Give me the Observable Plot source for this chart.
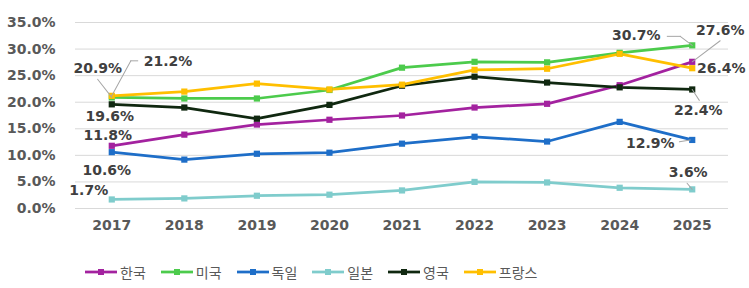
<!DOCTYPE html>
<html><head><meta charset="utf-8">
<script src="https://cdn.jsdelivr.net/npm/d3@7"></script>
<script src="https://cdn.jsdelivr.net/npm/@observablehq/plot@0.6"></script>
<style>
body{margin:0;background:#fff;}
#chart{width:749px;height:250px;}
.legend{height:38px;display:flex;gap:15px;padding-left:85px;align-items:center;padding-top:6px;box-sizing:border-box;font-family:"Noto Sans CJK KR","Noto Sans",sans-serif;font-size:14px;color:#595959;}
.item{display:flex;align-items:center;gap:3px;}
</style></head><body>
<div id="chart"></div>
<div class="legend" id="legend"></div>
<script>
const years = [2017, 2018, 2019, 2020, 2021, 2022, 2023, 2024, 2025];
const seriesNames = ["한국", "미국", "독일", "일본", "영국", "프랑스"];
const colors = ["#a3229f", "#4ccb4c", "#1e6ec8", "#7fcccc", "#102810", "#ffbf00"];
const korea   = [11.8, 13.9, 15.8, 16.7, 17.5, 19.0, 19.7, 23.2, 27.6];
const usa     = [20.9, 20.7, 20.7, 22.3, 26.5, 27.6, 27.5, 29.3, 30.7];
const germany = [10.6, 9.2, 10.3, 10.5, 12.2, 13.5, 12.6, 16.3, 12.9];
const japan   = [1.7, 1.9, 2.4, 2.6, 3.4, 5.0, 4.9, 3.9, 3.6];
const uk      = [19.6, 19.0, 16.9, 19.5, 23.1, 24.8, 23.7, 22.8, 22.4];
const france  = [21.2, 22.0, 23.5, 22.4, 23.3, 26.1, 26.3, 29.1, 26.4];
const yTicks  = [0, 5, 10, 15, 20, 25, 30, 35];

const seriesValues = [korea, usa, germany, japan, uk, france];
const data = seriesNames.flatMap((s, i) => years.map((y, j) => ({series: s, year: y, value: seriesValues[i][j]})));
const pick = (s, yr) => data.filter(d => d.series === s && d.year === yr);

const lineShape = {draw(ctx, l) { ctx.moveTo(0, 0); ctx.lineTo(0, -l); }};

function label(s, yr, dx, dy, anchor = "middle") {
  return Plot.text(pick(s, yr), {x: "year", y: "value", text: d => d.value.toFixed(1) + "%",
    dx, dy, textAnchor: anchor, fontWeight: "bold", fontSize: 14, fill: "#404040"});
}
function leader(s, yr, length, rotate, dx = 0, dy = 0) {
  return Plot.vector(pick(s, yr), {x: "year", y: "value", length, rotate, anchor: "start",
    shape: lineShape, stroke: "#a6a6a6", strokeWidth: 1, dx, dy});
}

const chart = Plot.plot({
  width: 749, height: 250,
  marginLeft: 75, marginRight: 21, marginTop: 22, marginBottom: 42,
  style: {fontFamily: "DejaVu Sans", fontSize: "14px", color: "#595959", background: "#fff"},
  x: {type: "linear", domain: [2016.5, 2025.5]},
  y: {domain: [0, 35]},
  color: {domain: seriesNames, range: colors},
  marks: [
    Plot.gridY(yTicks, {stroke: "#d9d9d9", strokeOpacity: 1, strokeWidth: 1}),
    Plot.axisY(yTicks, {tickSize: 0, tickPadding: 20, tickFormat: d => d.toFixed(1) + "%", fontWeight: "bold", fontSize: 14, label: null}),
    Plot.axisX(years, {tickSize: 0, tickPadding: 12, tickFormat: d => String(d), fontWeight: "bold", fontSize: 14, label: null}),
    Plot.line(data, {x: "year", y: "value", z: "series", stroke: "series", strokeWidth: 2.75}),
    Plot.dot(data, {x: "year", y: "value", fill: "series", symbol: "square", r: 3.5}),
    leader("미국", 2017, 23, -38),
    leader("프랑스", 2017, 40, 28.5),
    leader("프랑스", 2017, 7, 90, 19, -35),
    leader("미국", 2025, 15, -53),
    leader("미국", 2025, 13, -90, -12, -9),
    leader("한국", 2025, 35, 53),
    leader("영국", 2025, 13, 147),
    leader("독일", 2025, 11, -100, -2, 0),
    leader("일본", 2025, 8, -40),
    label("미국", 2017, -14, -29),
    label("프랑스", 2017, 32, -34, "start"),
    label("영국", 2017, -2, 12),
    label("한국", 2017, -4, -10),
    label("독일", 2017, -5, 18),
    label("일본", 2017, -23, -9),
    label("미국", 2025, -56, -10),
    label("한국", 2025, 28, -31),
    label("프랑스", 2025, 29, 0),
    label("영국", 2025, 6, 21),
    label("독일", 2025, -42, 4),
    label("일본", 2025, -4, -17)
  ]
});
document.getElementById("chart").appendChild(chart);

const legend = document.getElementById("legend");
seriesNames.forEach((s, i) => {
  const item = document.createElement("div");
  item.className = "item";
  item.innerHTML = `<svg width="32" height="10"><line x1="0" y1="5" x2="32" y2="5" stroke="${colors[i]}" stroke-width="2.75"/><rect x="13" y="2" width="6" height="6" fill="${colors[i]}"/></svg><span>${s}</span>`;
  legend.appendChild(item);
});
</script>
</body></html>
